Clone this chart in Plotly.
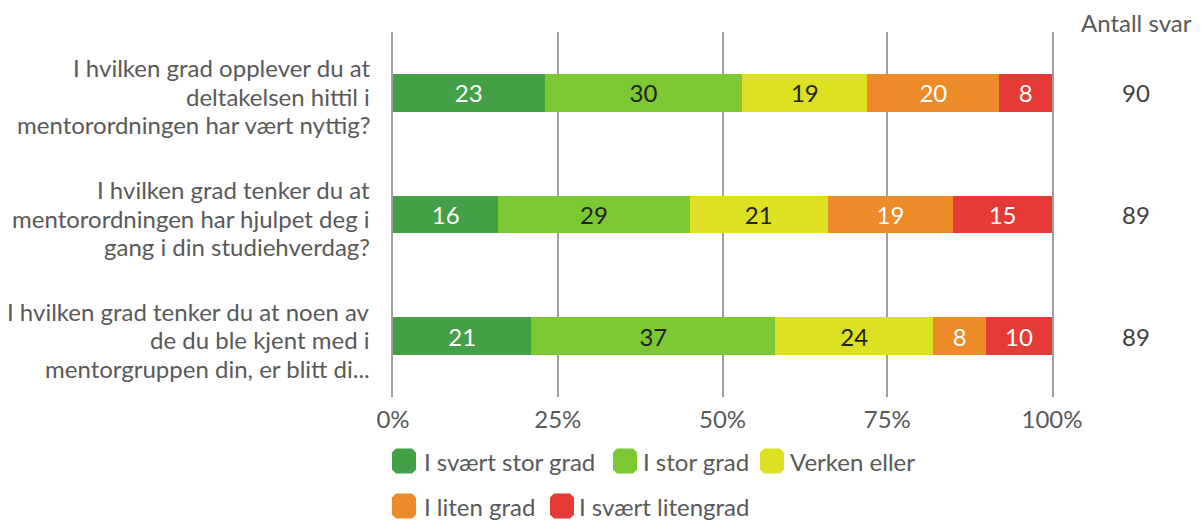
import plotly.graph_objects as go

questions = [
    "I hvilken grad opplever du at<br>deltakelsen hittil i<br>mentorordningen har vært nyttig?",
    "I hvilken grad tenker du at<br>mentorordningen har hjulpet deg i<br>gang i din studiehverdag?",
    "I hvilken grad tenker du at noen av<br>de du ble kjent med i<br>mentorgruppen din, er blitt di...",
]
series_names = ["I svært stor grad", "I stor grad", "Verken eller", "I liten grad", "I svært litengrad"]
svaert_stor = [23, 16, 21]
stor = [30, 29, 37]
verken = [19, 21, 24]
liten = [20, 19, 8]
svaert_liten = [8, 15, 10]
antall_svar = [90, 89, 89]
x_ticks = [0, 25, 50, 75, 100]
x_ticklabels = ["0%", "25%", "50%", "75%", "100%"]

series_values = [svaert_stor, stor, verken, liten, svaert_liten]
colors = ["#43A047", "#7CC832", "#DDE122", "#EC8B27", "#E53A36"]
text_colors = ["#FFFFFF", "#222222", "#222222", "#FFFFFF", "#FFFFFF"]

FONT = "Lato"
GRAY = "#595959"
FS = 24

# page body has an 8px margin -> figure is offset by 8px
OFF = 8
W, H = 1202 - OFF, 524 - OFF
PL, PR, PT, PB = 393, 1052, 32, 397          # plot area in screen pixels
ML, MT = PL - OFF, PT - OFF
MR, MB = W - (PR - OFF), H - (PB - OFF)
PW, PH = PR - PL, PB - PT


def xp(px):
    return (px - PL) / PW


def yp(py):
    return (PB - py) / PH


fig = go.Figure()
ids = list(range(len(questions)))
for name, vals, col, tcol in zip(series_names, series_values, colors, text_colors):
    fig.add_trace(go.Bar(
        y=ids, x=vals, name=name, orientation="h",
        marker=dict(color=col, line=dict(width=0)),
        text=[str(v) for v in vals], textposition="inside",
        insidetextanchor="middle",
        textfont=dict(family=FONT, size=FS, color=tcol),
        width=0.31, showlegend=False,
    ))

fig.update_layout(
    barmode="stack",
    width=W, height=H,
    margin=dict(l=ML, r=MR, t=MT, b=MB, autoexpand=False),
    plot_bgcolor="white", paper_bgcolor="white",
    font=dict(family=FONT, size=FS, color=GRAY),
    uniformtext=dict(minsize=10, mode="show"),
)
fig.update_xaxes(
    range=[0, 100], tickvals=x_ticks, ticktext=x_ticklabels,
    showgrid=True, gridcolor="#A0A0A0", gridwidth=1.5,
    zeroline=False, showline=False, ticks="",
    tickfont=dict(family=FONT, size=FS, color=GRAY),
    ticklabelstandoff=6,
)
fig.update_yaxes(
    tickvals=ids, range=[len(questions) - 0.5, -0.5],
    showticklabels=False, showgrid=False, zeroline=False, ticks="",
    showline=True, mirror=True, linecolor="#A0A0A0", linewidth=1.5,
)

px_per_unit = PH / len(questions)
annotations = [dict(
    x=xp(1136), y=yp(22), xref="paper", yref="paper", height=22,
    text="Antall svar", showarrow=False, xanchor="center", yanchor="middle",
    font=dict(family=FONT, size=FS, color=GRAY),
)]
for i, n in enumerate(antall_svar):
    annotations.append(dict(
        x=xp(1136), y=i, xref="paper", yref="y", text=str(n), showarrow=False,
        xanchor="center", yanchor="middle",
        font=dict(family=FONT, size=FS, color="#404040"),
    ))

# question labels, one annotation per line for tight line spacing
line_offsets = [-25, 3.5, 32]
for i, q in enumerate(questions):
    for line, off in zip(q.split("<br>"), line_offsets):
        annotations.append(dict(
            x=xp(372), y=i + off / px_per_unit, xref="paper", yref="y",
            text=line, showarrow=False, xanchor="right", yanchor="middle",
            font=dict(family=FONT, size=FS, color=GRAY),
        ))

# manual legend (rounded swatches)
legend_pos = [(392, 461, 422), (613, 461, 641), (760, 461, 788),
              (392, 506, 422), (550, 506, 577)]
shapes = []
sw, sh, r = 24, 25, 4
for (sx, sy, tx), name, col in zip(legend_pos, series_names, colors):
    x0, x1 = sx, sx + sw
    y0, y1 = sy - sh / 2, sy + sh / 2
    pts = [
        (x0 + r, y0), (x1 - r, y0), (x1, y0 + r), (x1, y1 - r),
        (x1 - r, y1), (x0 + r, y1), (x0, y1 - r), (x0, y0 + r),
    ]
    path = "M" + " L".join(f"{xp(a):.5f},{yp(b):.5f}" for a, b in pts) + " Z"
    shapes.append(dict(type="path", path=path, xref="paper", yref="paper",
                       fillcolor=col, line=dict(width=0)))
    annotations.append(dict(
        x=xp(tx), y=yp(sy), xref="paper", yref="paper", text=name, showarrow=False,
        xanchor="left", yanchor="middle", font=dict(family=FONT, size=FS, color=GRAY),
    ))

fig.update_layout(annotations=annotations, shapes=shapes)
fig.write_html("out.html")
